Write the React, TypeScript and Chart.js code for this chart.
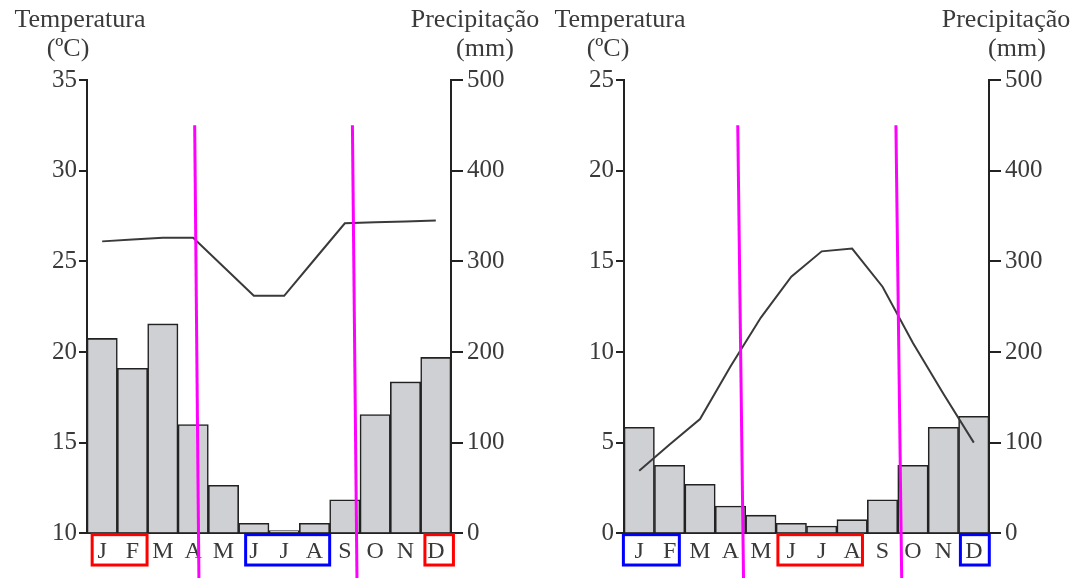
import React, { useEffect, useRef } from "react";
import { Chart, registerables } from "chart.js";

Chart.register(...registerables);

// ---------- data ----------
const months = ["J", "F", "M", "A", "M", "J", "J", "A", "S", "O", "N", "D"];

const precipLeft = [215, 182, 231, 120, 53, 11, 3, 11, 37, 131, 167, 194];
const tempLeft = [26.1, 26.2, 26.3, 26.3, 24.7, 23.1, 23.1, 25.1, 27.1, 27.15, 27.2, 27.25];

const precipRight = [117, 75, 54, 30, 20, 11, 8, 15, 37, 75, 117, 129];
const tempRight = [3.45, 4.9, 6.3, 9.2, 11.9, 14.15, 15.55, 15.7, 13.6, 10.5, 7.7, 5.0];

const tempRangeLeft = [10, 35];
const tempRangeRight = [0, 25];
const precipRange = [0, 500];
const tempStep = 5;
const precipStep = 100;

const tempTitle = ["Temperatura", "(ºC)"];
const precipTitle = ["Precipitação", "(mm)"];

// season boundaries (month-index units at top -> bottom), precipitation units for height
const boundariesLeft = [
  [3.05, 3.19],
  [8.25, 8.4],
];
const boundariesRight = [
  [3.24, 3.43],
  [8.44, 8.63],
];
const boundaryTopMm = 450;
const boundaryBottomMm = -49.5;

// highlighted month groups (month-index ranges)
const highlightsLeft = [
  { from: -0.33, to: 1.48, color: "#ff0000" },
  { from: 4.73, to: 7.5, color: "#0000ff" },
  { from: 10.64, to: 11.58, color: "#ff0000" },
];
const highlightsRight = [
  { from: -0.52, to: 1.32, color: "#0000ff" },
  { from: 4.56, to: 7.34, color: "#ff0000" },
  { from: 10.56, to: 11.51, color: "#0000ff" },
];

// ---------- styles ----------
const SERIF = '"Liberation Serif", "DejaVu Serif", serif';
const TEXT = "#3a3a3a";
const AXIS = "#222222";

type Spec = {
  width: number;
  leftW: number;
  rightW: number;
  precip: number[];
  temp: number[];
  tempRange: number[];
  boundaries: number[][];
  highlights: { from: number; to: number; color: string }[];
  tempTitleDx: number[];
  precipTitleDx: number[];
};

function makeOverlay(spec: Spec) {
  return {
    id: "overlay",
    afterDraw(chart: any) {
      const { ctx } = chart;
      const x = chart.scales.x;
      const yP = chart.scales.yP;
      const yT = chart.scales.yT;
      ctx.save();
      // axis titles
      ctx.fillStyle = TEXT;
      ctx.font = `26px ${SERIF}`;
      ctx.textAlign = "center";
      ctx.textBaseline = "alphabetic";
      ctx.fillText(tempTitle[0], yT.right + spec.tempTitleDx[0], 27);
      ctx.fillText(tempTitle[1], yT.right + spec.tempTitleDx[1], 56);
      ctx.fillText(precipTitle[0], yP.left + spec.precipTitleDx[0], 27);
      ctx.fillText(precipTitle[1], yP.left + spec.precipTitleDx[1], 56);

      // season boundaries
      ctx.strokeStyle = "#ff00ff";
      ctx.lineWidth = 3;
      for (const [a, b] of spec.boundaries) {
        ctx.beginPath();
        ctx.moveTo(x.getPixelForValue(a), yP.getPixelForValue(boundaryTopMm));
        ctx.lineTo(x.getPixelForValue(b), yP.getPixelForValue(boundaryBottomMm));
        ctx.stroke();
      }
      // highlighted months
      for (const h of spec.highlights) {
        ctx.strokeStyle = h.color;
        ctx.lineWidth = 3;
        const l = x.getPixelForValue(h.from);
        const r = x.getPixelForValue(h.to);
        const t = yP.getPixelForValue(-1.5);
        const bt = yP.getPixelForValue(-35);
        ctx.strokeRect(l, t, r - l, bt - t);
      }
      ctx.restore();
    },
  };
}

function ClimateChart({ spec }: { spec: Spec }) {
  const ref = useRef<HTMLCanvasElement | null>(null);
  useEffect(() => {
    if (!ref.current) return;
    const chart = new Chart(ref.current, {
      type: "bar",
      data: {
        labels: months,
        datasets: [
          {
            type: "line",
            data: spec.temp,
            yAxisID: "yT",
            borderColor: "#3a3a3a",
            borderWidth: 2,
            pointRadius: 0,
            tension: 0,
            order: 1,
          } as any,
          {
            type: "bar",
            data: spec.precip,
            yAxisID: "yP",
            backgroundColor: "#cfd0d3",
            borderColor: "#222222",
            borderWidth: 1.6,
            barPercentage: 1,
            categoryPercentage: 1,
            order: 2,
          } as any,
        ],
      },
      options: {
        responsive: false,
        animation: false,
        layout: { padding: { top: 80, left: 0, right: 0, bottom: 0 } },
        plugins: { legend: { display: false }, tooltip: { enabled: false } },
        scales: {
          x: {
            type: "category",
            offset: true,
            grid: { display: false, drawTicks: false },
            border: { display: true, color: AXIS, width: 2 },
            ticks: {
              autoSkip: false,
              maxRotation: 0,
              padding: 4,
              color: TEXT,
              font: { family: SERIF, size: 24 },
            },
            afterFit: (s: any) => {
              s.height = 44.7;
            },
          },
          yT: {
            type: "linear",
            position: "left",
            min: spec.tempRange[0],
            max: spec.tempRange[1],
            ticks: {
              stepSize: tempStep,
              padding: 2,
              color: TEXT,
              font: { family: SERIF, size: 25 },
            },
            grid: { drawOnChartArea: false, drawTicks: true, tickLength: 8, color: AXIS, lineWidth: 2 },
            border: { display: true, color: AXIS, width: 2 },
            afterFit: (s: any) => {
              s.width = spec.leftW;
            },
          },
          yP: {
            type: "linear",
            position: "right",
            min: precipRange[0],
            max: precipRange[1],
            ticks: {
              stepSize: precipStep,
              padding: 4,
              color: TEXT,
              font: { family: SERIF, size: 25 },
            },
            grid: { drawOnChartArea: false, drawTicks: true, tickLength: 12, color: AXIS, lineWidth: 2 },
            border: { display: true, color: AXIS, width: 2 },
            afterFit: (s: any) => {
              s.width = spec.rightW;
            },
          },
        },
      } as any,
      plugins: [makeOverlay(spec)],
    });
    return () => chart.destroy();
  }, [spec]);
  return (
    <canvas
      ref={ref}
      width={spec.width}
      height={578}
      style={{ width: spec.width, height: 578, display: "block" }}
    />
  );
}

const leftSpec: Spec = {
  width: 540,
  leftW: 87,
  rightW: 89,
  precip: precipLeft,
  temp: tempLeft,
  tempRange: tempRangeLeft,
  boundaries: boundariesLeft,
  highlights: highlightsLeft,
  tempTitleDx: [-7, -19],
  precipTitleDx: [24, 34],
};

const rightSpec: Spec = {
  width: 534,
  leftW: 84,
  rightW: 85,
  precip: precipRight,
  temp: tempRight,
  tempRange: tempRangeRight,
  boundaries: boundariesRight,
  highlights: highlightsRight,
  tempTitleDx: [-4, -16],
  precipTitleDx: [17, 28],
};

export default function App() {
  return (
    <div
      style={{
        position: "absolute",
        left: 0,
        top: 0,
        width: 1074,
        height: 578,
        background: "#ffffff",
        display: "flex",
        overflow: "hidden",
      }}
    >
      <ClimateChart spec={leftSpec} />
      <ClimateChart spec={rightSpec} />
    </div>
  );
}
